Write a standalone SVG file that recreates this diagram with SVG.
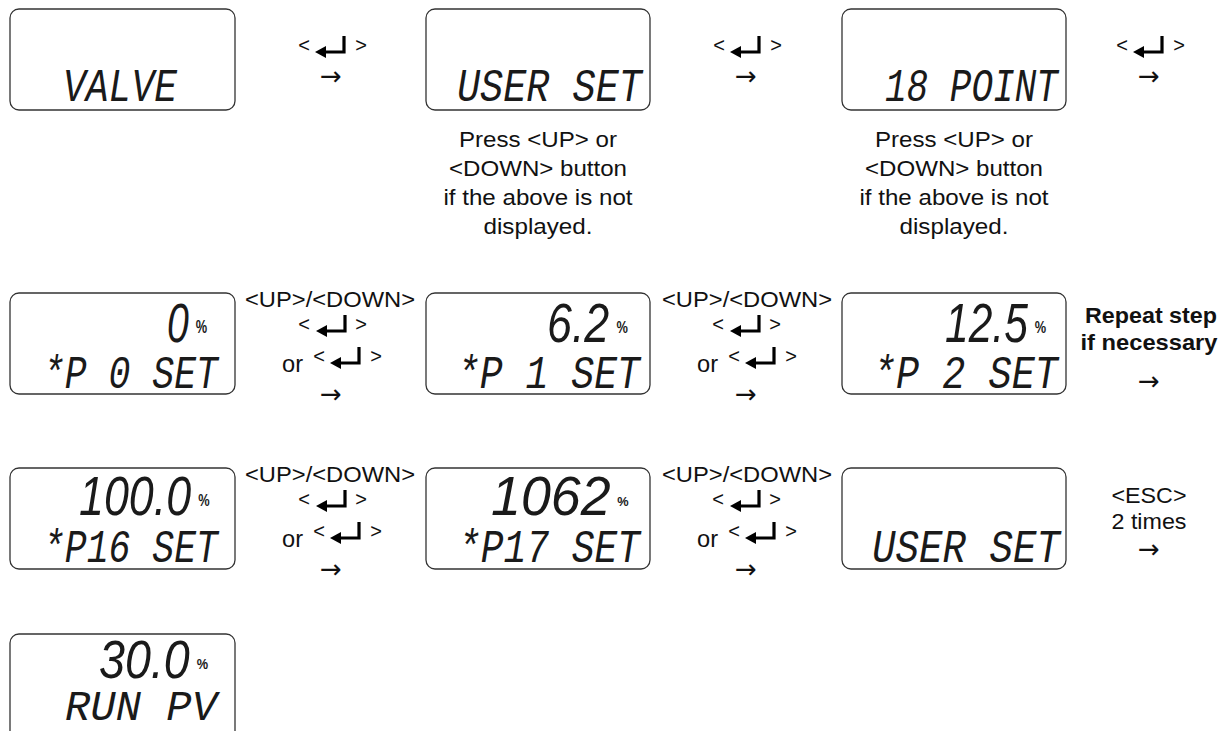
<svg xmlns="http://www.w3.org/2000/svg" xmlns:xlink="http://www.w3.org/1999/xlink" width="1222" height="731" viewBox="0 0 1222 731">
<style>
.box{fill:#fff;stroke:#333;stroke-width:1.3}
.lcd{font-family:"Liberation Mono","DejaVu Sans Mono",monospace;font-style:italic;font-size:46px;fill:#1a1a1a}
.dig{font-family:"Liberation Sans",Arial,sans-serif;font-style:italic;font-size:56px;fill:#1a1a1a}
.pct{font-style:normal;font-weight:bold}
.lbl{font-family:"Liberation Sans",Arial,sans-serif;font-size:22px;fill:#111;text-anchor:middle}
.bld{font-weight:bold}
.lt{font-family:"Liberation Sans",Arial,sans-serif;font-size:20px;fill:#111;text-anchor:middle}
.or{font-family:"Liberation Sans",Arial,sans-serif;font-size:24px;fill:#111}
.arr{font-family:"DejaVu Sans",sans-serif;font-size:26px;fill:#111;text-anchor:middle}
</style>
<defs>
<g id="enter">
<polygon points="0,0 11,-6 11,6" fill="#000"/>
<path d="M9,0 H29 V-16" fill="none" stroke="#000" stroke-width="3.2"/>
</g>
</defs>
<rect width="1222" height="731" fill="#fff"/>

<g id="node-valve">
<rect class="box" x="10" y="9" width="225" height="101" rx="9"/>
<text class="lcd" x="63" y="101" textLength="114" lengthAdjust="spacingAndGlyphs">VALVE</text>
</g>
<g id="node-userset1">
<rect class="box" x="426" y="9" width="224" height="101" rx="9"/>
<text class="lcd" x="457" y="101" textLength="185" lengthAdjust="spacingAndGlyphs">USER SET</text>
<text class="lbl" x="538" y="147" textLength="158" lengthAdjust="spacingAndGlyphs">Press &lt;UP&gt; or</text>
<text class="lbl" x="538" y="176" textLength="178" lengthAdjust="spacingAndGlyphs">&lt;DOWN&gt; button</text>
<text class="lbl" x="538" y="205" textLength="189" lengthAdjust="spacingAndGlyphs">if the above is not</text>
<text class="lbl" x="538" y="234" textLength="109" lengthAdjust="spacingAndGlyphs">displayed.</text>
</g>
<g id="node-18point">
<rect class="box" x="842" y="9" width="224" height="101" rx="9"/>
<text class="lcd" x="885" y="101" textLength="173" lengthAdjust="spacingAndGlyphs">18 POINT</text>
<text class="lbl" x="954" y="147" textLength="158" lengthAdjust="spacingAndGlyphs">Press &lt;UP&gt; or</text>
<text class="lbl" x="954" y="176" textLength="178" lengthAdjust="spacingAndGlyphs">&lt;DOWN&gt; button</text>
<text class="lbl" x="954" y="205" textLength="189" lengthAdjust="spacingAndGlyphs">if the above is not</text>
<text class="lbl" x="954" y="234" textLength="109" lengthAdjust="spacingAndGlyphs">displayed.</text>
</g>

<g id="node-p0">
<rect class="box" x="10" y="293" width="225" height="101" rx="9"/>
<text class="dig" transform="translate(167,342) scale(0.7,1)">0<tspan class="pct" dx="10" dy="-9" style="font-size:18.3px">%</tspan></text>
<text class="lcd" x="43" y="388" textLength="175" lengthAdjust="spacingAndGlyphs">*P 0 SET</text>
</g>
<g id="node-p1">
<rect class="box" x="426" y="293" width="224" height="101" rx="9"/>
<text class="dig" transform="translate(547,342) scale(0.8,1)">6.2<tspan class="pct" dx="9" dy="-9" style="font-size:16px">%</tspan></text>
<text class="lcd" x="457" y="388" textLength="183" lengthAdjust="spacingAndGlyphs">*P 1 SET</text>
</g>
<g id="node-p2">
<rect class="box" x="842" y="293" width="224" height="101" rx="9"/>
<text class="dig" transform="translate(945,342) scale(0.76,1)">12.5<tspan class="pct" dx="9" dy="-9" style="font-size:16.8px">%</tspan></text>
<text class="lcd" x="873" y="388" textLength="185" lengthAdjust="spacingAndGlyphs">*P 2 SET</text>
</g>

<g id="node-p16">
<rect class="box" x="10" y="468" width="225" height="101" rx="9"/>
<text class="dig" transform="translate(79,515) scale(0.8,1)">100.0<tspan class="pct" dx="9" dy="-9" style="font-size:16px">%</tspan></text>
<text class="lcd" x="43" y="562" textLength="175" lengthAdjust="spacingAndGlyphs">*P16 SET</text>
</g>
<g id="node-p17">
<rect class="box" x="426" y="468" width="224" height="101" rx="9"/>
<text class="dig" transform="translate(491,515) scale(0.96,1)">1062<tspan class="pct" dx="7" dy="-9" style="font-size:13.3px">%</tspan></text>
<text class="lcd" x="458" y="562" textLength="182" lengthAdjust="spacingAndGlyphs">*P17 SET</text>
</g>
<g id="node-userset2">
<rect class="box" x="842" y="468" width="224" height="101" rx="9"/>
<text class="lcd" x="872" y="562" textLength="188" lengthAdjust="spacingAndGlyphs">USER SET</text>
</g>

<g id="node-runpv">
<rect class="box" x="10" y="634" width="225" height="110" rx="9"/>
<text class="dig" transform="translate(99,678) scale(0.88,1)" style="font-size:53px">30.0<tspan class="pct" dx="8" dy="-9" style="font-size:14.5px">%</tspan></text>
<text class="lcd" x="65" y="720" style="font-size:43px" textLength="152" lengthAdjust="spacingAndGlyphs">RUN PV</text>
</g>

<g id="connectors">
<g id="c1">
<text class="lt" x="304" y="52">&lt;</text><use xlink:href="#enter" x="315" y="52"/><text class="lt" x="361" y="52">&gt;</text>
<text class="arr" x="331" y="85">→</text>
</g>
<g id="c2">
<text class="lt" x="719" y="52">&lt;</text><use xlink:href="#enter" x="730" y="52"/><text class="lt" x="776" y="52">&gt;</text>
<text class="arr" x="746" y="85">→</text>
</g>
<g id="c3">
<text class="lt" x="1122" y="52">&lt;</text><use xlink:href="#enter" x="1133" y="52"/><text class="lt" x="1179" y="52">&gt;</text>
<text class="arr" x="1149" y="85">→</text>
</g>

<g id="c4">
<text class="lbl" x="330" y="307" textLength="170" lengthAdjust="spacingAndGlyphs">&lt;UP&gt;/&lt;DOWN&gt;</text>
<text class="lt" x="304" y="331">&lt;</text><use xlink:href="#enter" x="316" y="331"/><text class="lt" x="361" y="331">&gt;</text>
<text class="or" x="282" y="372" textLength="21" lengthAdjust="spacingAndGlyphs">or</text>
<text class="lt" x="319" y="363">&lt;</text><use xlink:href="#enter" x="330" y="363"/><text class="lt" x="376" y="363">&gt;</text>
<text class="arr" x="331" y="403">→</text>
</g>
<g id="c5">
<text class="lbl" x="747" y="307" textLength="170" lengthAdjust="spacingAndGlyphs">&lt;UP&gt;/&lt;DOWN&gt;</text>
<text class="lt" x="718" y="331">&lt;</text><use xlink:href="#enter" x="730" y="331"/><text class="lt" x="775" y="331">&gt;</text>
<text class="or" x="697" y="372" textLength="21" lengthAdjust="spacingAndGlyphs">or</text>
<text class="lt" x="734" y="363">&lt;</text><use xlink:href="#enter" x="745" y="363"/><text class="lt" x="791" y="363">&gt;</text>
<text class="arr" x="746" y="403">→</text>
</g>
<g id="c6">
<text class="lbl bld" x="1151" y="323" textLength="132" lengthAdjust="spacingAndGlyphs">Repeat step</text>
<text class="lbl bld" x="1149" y="350" textLength="137" lengthAdjust="spacingAndGlyphs">if necessary</text>
<text class="arr" x="1149" y="390">→</text>
</g>

<g id="c7">
<text class="lbl" x="330" y="482" textLength="170" lengthAdjust="spacingAndGlyphs">&lt;UP&gt;/&lt;DOWN&gt;</text>
<text class="lt" x="304" y="506">&lt;</text><use xlink:href="#enter" x="316" y="506"/><text class="lt" x="361" y="506">&gt;</text>
<text class="or" x="282" y="547" textLength="21" lengthAdjust="spacingAndGlyphs">or</text>
<text class="lt" x="319" y="538">&lt;</text><use xlink:href="#enter" x="330" y="538"/><text class="lt" x="376" y="538">&gt;</text>
<text class="arr" x="331" y="578">→</text>
</g>
<g id="c8">
<text class="lbl" x="747" y="482" textLength="170" lengthAdjust="spacingAndGlyphs">&lt;UP&gt;/&lt;DOWN&gt;</text>
<text class="lt" x="718" y="506">&lt;</text><use xlink:href="#enter" x="730" y="506"/><text class="lt" x="775" y="506">&gt;</text>
<text class="or" x="697" y="547" textLength="21" lengthAdjust="spacingAndGlyphs">or</text>
<text class="lt" x="734" y="538">&lt;</text><use xlink:href="#enter" x="745" y="538"/><text class="lt" x="791" y="538">&gt;</text>
<text class="arr" x="746" y="578">→</text>
</g>
<g id="c9">
<text class="lbl" x="1149" y="503" textLength="75" lengthAdjust="spacingAndGlyphs">&lt;ESC&gt;</text>
<text class="lbl" x="1149" y="529" textLength="75" lengthAdjust="spacingAndGlyphs">2 times</text>
<text class="arr" x="1149" y="558">→</text>
</g>
</g>
</svg>
